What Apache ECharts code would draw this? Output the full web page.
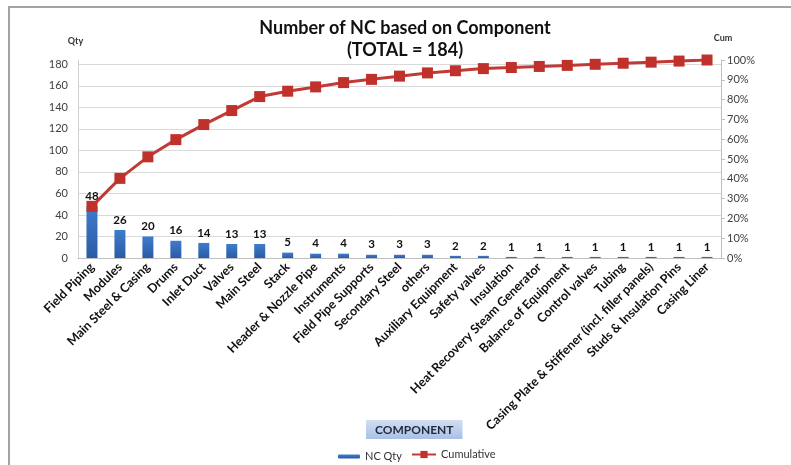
<!DOCTYPE html>
<html>
<head>
<meta charset="utf-8">
<script src="https://cdn.jsdelivr.net/npm/echarts@6/dist/echarts.min.js"></script>
<style>
  html, body { margin: 0; padding: 0; background: #ffffff; }
  #frame { position: absolute; left: 8px; top: 6px; width: 800px; height: 470px;
           border-left: 2px solid #a3a3a3; border-top: 2px solid #a3a3a3; box-sizing: border-box; }
  #chart { position: absolute; left: 0; top: 0; width: 791px; height: 465px; }
</style>
</head>
<body>
<div id="frame"></div>
<div id="chart"></div>
<script>
// Non-conformities per component, sorted descending (Pareto order)
const components = [
  'Field Piping', 'Modules', 'Main Steel & Casing', 'Drums', 'Inlet Duct', 'Valves',
  'Main Steel', 'Stack', 'Header & Nozzle Pipe', 'Instruments', 'Field Pipe Supports',
  'Secondary Steel', 'others', 'Auxiliary Equipment', 'Safety valves', 'Insulation',
  'Heat Recovery Steam Generator', 'Balance of Equipment', 'Control valves', 'Tubing',
  'Casing Plate & Stiffener (incl. filler panels)', 'Studs & Insulation Pins', 'Casing Liner'
];
const ncQty = [48, 26, 20, 16, 14, 13, 13, 5, 4, 4, 3, 3, 3, 2, 2, 1, 1, 1, 1, 1, 1, 1, 1];
// Cumulative share of the 184 NCs, in percent
const cumulativePct = [26.09, 40.22, 51.09, 59.78, 67.39, 74.46, 81.52, 84.24, 86.41, 88.59,
  90.22, 91.85, 93.48, 94.57, 95.65, 96.20, 96.74, 97.28, 97.83, 98.37, 98.91, 99.46, 100];
const totalNc = 184;

const FONT = 'Lato, "Open Sans", sans-serif';
const chart = echarts.init(document.getElementById('chart'), null, { renderer: 'canvas' });

// grid lines every 20, none at the 184 top edge
const gridColors = [];
for (let v = 0; v <= 180; v += 20) gridColors.push('#d9d9d9');
gridColors.push('rgba(0,0,0,0)');

chart.setOption({
  animation: false,
  backgroundColor: 'transparent',
  textStyle: { fontFamily: FONT },
  title: [
    {
      text: 'Number of NC based on Component',
      subtext: '(TOTAL = ' + totalNc + ')',
      left: 405, top: 19, textAlign: 'center', itemGap: 4, padding: 0,
      textStyle: { fontFamily: FONT, fontSize: 18, fontWeight: 'bold', color: '#111' },
      subtextStyle: { fontFamily: FONT, fontSize: 18, fontWeight: 'bold', color: '#111' }
    },
    {
      text: 'COMPONENT',
      left: 366, top: 420, padding: [4, 9, 3, 9],
      backgroundColor: new echarts.graphic.LinearGradient(0, 0, 0, 1, [
        { offset: 0, color: '#d2def2' }, { offset: 1, color: '#a9c1e6' }
      ]),
      textStyle: { fontFamily: FONT, fontSize: 12, fontWeight: 'bold', color: '#1f2a3a' }
    }
  ],
  grid: { left: 78, right: 70, top: 60, bottom: 207 },
  legend: [
    {
      data: ['NC Qty'], left: 333, top: 446, itemWidth: 22, itemHeight: 4, itemGap: 4,
      textStyle: { fontFamily: FONT, fontSize: 11, color: '#333' }
    },
    {
      data: ['Cumulative'], left: 406, top: 444, itemWidth: 24, itemHeight: 9, itemGap: 3,
      textStyle: { fontFamily: FONT, fontSize: 11, color: '#333' }
    }
  ],
  xAxis: {
    type: 'category',
    data: components,
    axisLine: { lineStyle: { color: '#bfbfbf', width: 1 } },
    axisTick: { show: false },
    axisLabel: {
      rotate: 45, interval: 0, margin: 7,
      fontFamily: FONT, fontSize: 12.5, fontWeight: 'bold', color: '#111'
    }
  },
  yAxis: [
    {
      type: 'value', min: 0, max: totalNc, interval: 20,
      name: 'Qty', nameLocation: 'end', nameGap: 14,
      nameTextStyle: { fontFamily: FONT, fontSize: 9, fontWeight: 'bold', color: '#333', align: 'center', padding: [0, 5, 0, 0] },
      axisLine: { show: true, lineStyle: { color: '#d0d0d0' } },
      axisTick: { show: false },
      axisLabel: { showMaxLabel: false, margin: 10, fontFamily: FONT, fontSize: 11, color: '#404040' },
      splitLine: { show: true, lineStyle: { color: gridColors, width: 1 } }
    },
    {
      type: 'value', min: 0, max: 100, interval: 10, position: 'right',
      name: 'Cum', nameLocation: 'end', nameGap: 17,
      nameTextStyle: { fontFamily: FONT, fontSize: 9, fontWeight: 'bold', color: '#333', align: 'center', padding: [0, 0, 0, 4] },
      axisLine: { show: true, lineStyle: { color: '#bfbfbf' } },
      axisTick: { show: true, inside: false, length: 4, lineStyle: { color: '#bfbfbf' } },
      axisLabel: { margin: 6, formatter: '{value}%', fontFamily: FONT, fontSize: 11, color: '#404040' },
      splitLine: { show: false }
    }
  ],
  series: [
    {
      name: 'NC Qty',
      type: 'bar',
      yAxisIndex: 0,
      data: ncQty,
      barWidth: 11,
      itemStyle: {
        color: new echarts.graphic.LinearGradient(0, 0, 0, 1, [
          { offset: 0, color: '#3f7ccd' }, { offset: 1, color: '#2a5ba5' }
        ])
      },
      label: {
        show: true, position: 'top', distance: 4,
        fontFamily: FONT, fontSize: 11.5, fontWeight: 'bold', color: '#111'
      }
    },
    {
      name: 'Cumulative',
      type: 'line',
      yAxisIndex: 1,
      data: cumulativePct,
      symbol: 'rect',
      symbolSize: 11,
      lineStyle: { color: '#c23a36', width: 3 },
      itemStyle: { color: '#c0312c' },
      z: 3
    }
  ]
});
</script>
</body>
</html>
